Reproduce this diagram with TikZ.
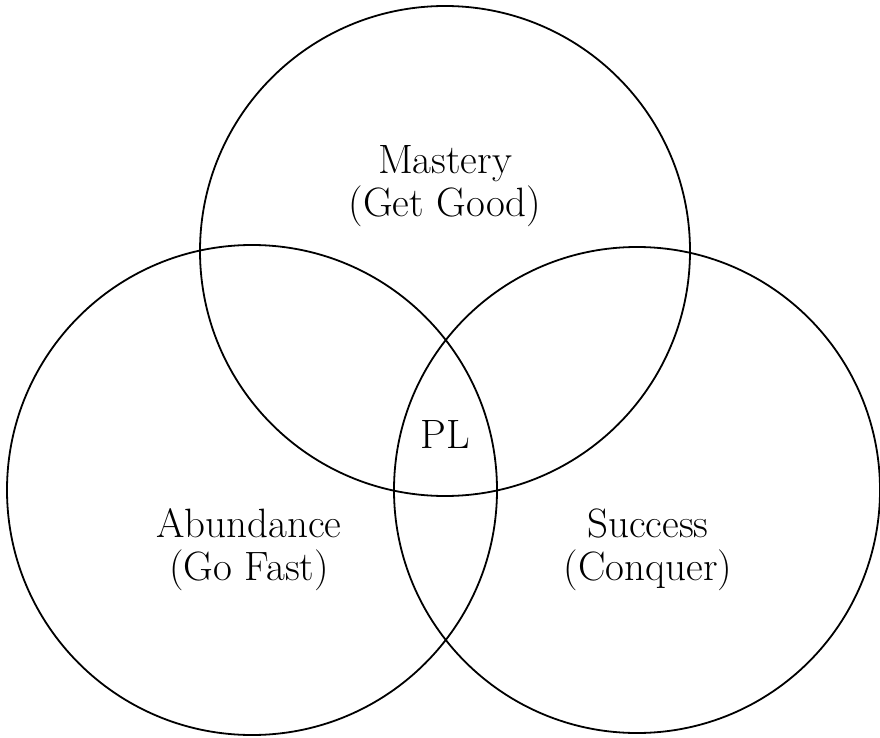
\documentclass[tikz,border=0pt]{standalone}
\begin{document}
\begin{tikzpicture}[x=1pt,y=-1pt,
  ring/.style={circle,draw=black,line width=1.8pt,inner sep=0pt},
  lbl/.style={align=center,inner sep=0pt,font=\fontsize{41}{43}\selectfont}]
\useasboundingbox (0,0) rectangle (880,738);
\node[ring,minimum size=490pt] (top) at (445,251) {};
\node[ring,minimum size=490pt] (left) at (252,490) {};
\node[ring,minimum size=486pt] (right) at (637,490) {};
\node[lbl] (mastery) at (445,186) {Mastery\\(Get Good)};
\node[lbl] (abund) at (249,550) {Abundance\\(Go Fast)};
\node[lbl] (succ) at (648,550) {Success\\(Conquer)};
\node[lbl] (pl) at (445,434) {PL};
\end{tikzpicture}
\end{document}
